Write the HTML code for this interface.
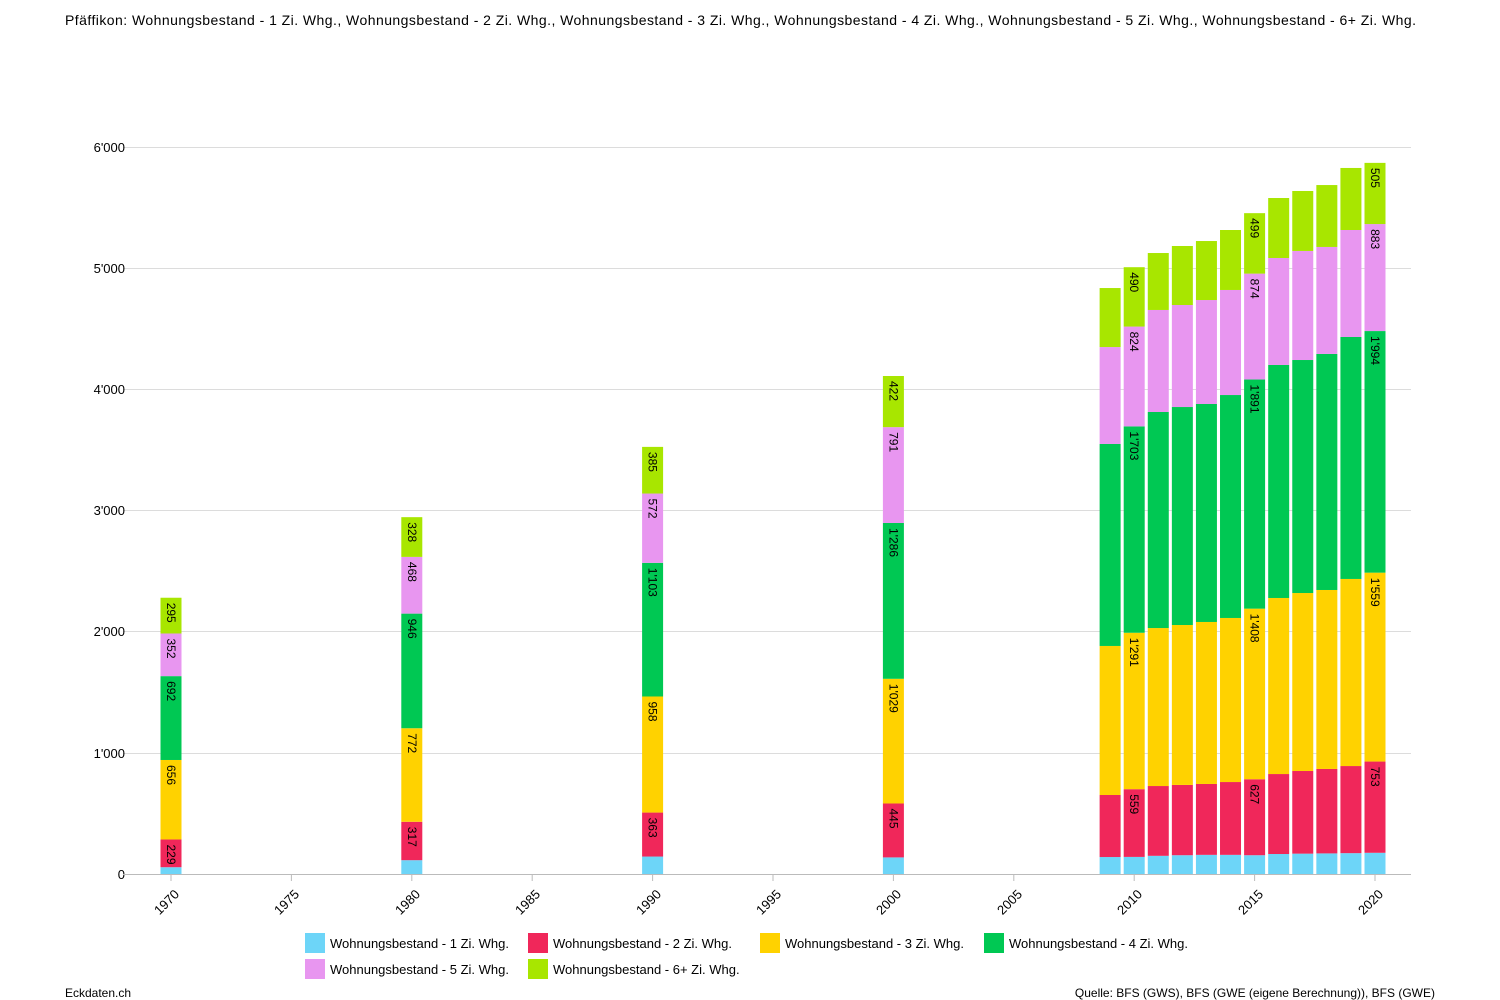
<!DOCTYPE html>
<html><head><meta charset="utf-8"><style>
body{margin:0;background:#fff;}
svg{display:block;font-family:"Liberation Sans",Arial,sans-serif;}
</style></head><body>
<svg id="s" width="1500" height="1000" viewBox="0 0 1500 1000">
<text x="65" y="25" font-size="14" fill="#000" textLength="1351" lengthAdjust="spacing">Pfäffikon: Wohnungsbestand - 1 Zi. Whg., Wohnungsbestand - 2 Zi. Whg., Wohnungsbestand - 3 Zi. Whg., Wohnungsbestand - 4 Zi. Whg., Wohnungsbestand - 5 Zi. Whg., Wohnungsbestand - 6+ Zi. Whg.</text>
<g stroke="#dcdcdc" stroke-width="1">
<line x1="123" x2="1411" y1="147.5" y2="147.5"/>
<line x1="123" x2="1411" y1="268.5" y2="268.5"/>
<line x1="123" x2="1411" y1="389.5" y2="389.5"/>
<line x1="123" x2="1411" y1="510.5" y2="510.5"/>
<line x1="123" x2="1411" y1="631.5" y2="631.5"/>
<line x1="123" x2="1411" y1="753.5" y2="753.5"/>
</g>
<g font-size="13" text-anchor="end" fill="#000">
<text x="125" y="152">6'000</text>
<text x="125" y="273">5'000</text>
<text x="125" y="394">4'000</text>
<text x="125" y="515">3'000</text>
<text x="125" y="636">2'000</text>
<text x="125" y="758">1'000</text>
<text x="125" y="879">0</text>
</g>
<g id="bars"></g>
<line x1="123" x2="1411" y1="874.5" y2="874.5" stroke="#bbb"/>
<g id="ticks" stroke="#bbb"></g>
<g font-size="13" text-anchor="end" fill="#000">
<text transform="translate(180,895) rotate(-45)">1970</text>
<text transform="translate(300,895) rotate(-45)">1975</text>
<text transform="translate(421,895) rotate(-45)">1980</text>
<text transform="translate(541,895) rotate(-45)">1985</text>
<text transform="translate(662,895) rotate(-45)">1990</text>
<text transform="translate(782,895) rotate(-45)">1995</text>
<text transform="translate(902,895) rotate(-45)">2000</text>
<text transform="translate(1023,895) rotate(-45)">2005</text>
<text transform="translate(1143,895) rotate(-45)">2010</text>
<text transform="translate(1264,895) rotate(-45)">2015</text>
<text transform="translate(1384,895) rotate(-45)">2020</text>
</g>
<g font-size="12" fill="#000">
<text transform="translate(167,844.5) rotate(90)">229</text>
<text transform="translate(167,765) rotate(90)">656</text>
<text transform="translate(167,681.1) rotate(90)">692</text>
<text transform="translate(167,638.5) rotate(90)">352</text>
<text transform="translate(167,602.7) rotate(90)">295</text>
<text transform="translate(407.8,826.8) rotate(90)">317</text>
<text transform="translate(407.8,733.2) rotate(90)">772</text>
<text transform="translate(407.8,618.6) rotate(90)">946</text>
<text transform="translate(407.8,561.9) rotate(90)">468</text>
<text transform="translate(407.8,522.2) rotate(90)">328</text>
<text transform="translate(648.6,817.6) rotate(90)">363</text>
<text transform="translate(648.6,701.5) rotate(90)">958</text>
<text transform="translate(648.6,567.8) rotate(90)">1'103</text>
<text transform="translate(648.6,498.5) rotate(90)">572</text>
<text transform="translate(648.6,451.9) rotate(90)">385</text>
<text transform="translate(889.4,808.5) rotate(90)">445</text>
<text transform="translate(889.4,683.8) rotate(90)">1'029</text>
<text transform="translate(889.4,528) rotate(90)">1'286</text>
<text transform="translate(889.4,432.1) rotate(90)">791</text>
<text transform="translate(889.4,381) rotate(90)">422</text>
<text transform="translate(1130.2,794.2) rotate(90)">559</text>
<text transform="translate(1130.2,637.8) rotate(90)">1'291</text>
<text transform="translate(1130.2,431.4) rotate(90)">1'703</text>
<text transform="translate(1130.2,331.6) rotate(90)">824</text>
<text transform="translate(1130.2,272.2) rotate(90)">490</text>
<text transform="translate(1250.6,784.2) rotate(90)">627</text>
<text transform="translate(1250.6,613.6) rotate(90)">1'408</text>
<text transform="translate(1250.6,384.5) rotate(90)">1'891</text>
<text transform="translate(1250.6,278.6) rotate(90)">874</text>
<text transform="translate(1250.6,218.1) rotate(90)">499</text>
<text transform="translate(1371,766.6) rotate(90)">753</text>
<text transform="translate(1371,577.7) rotate(90)">1'559</text>
<text transform="translate(1371,336) rotate(90)">1'994</text>
<text transform="translate(1371,229.1) rotate(90)">883</text>
<text transform="translate(1371,167.9) rotate(90)">505</text>
</g>
<g font-size="13" fill="#000">
<rect x="305" y="933" width="20" height="20" fill="#6dd5f8"/><text x="330" y="948">Wohnungsbestand - 1 Zi. Whg.</text>
<rect x="528" y="933" width="20" height="20" fill="#f0275a"/><text x="553" y="948">Wohnungsbestand - 2 Zi. Whg.</text>
<rect x="760" y="933" width="20" height="20" fill="#ffd200"/><text x="785" y="948">Wohnungsbestand - 3 Zi. Whg.</text>
<rect x="984" y="933" width="20" height="20" fill="#00c853"/><text x="1009" y="948">Wohnungsbestand - 4 Zi. Whg.</text>
<rect x="305" y="959" width="20" height="20" fill="#e896f0"/><text x="330" y="974">Wohnungsbestand - 5 Zi. Whg.</text>
<rect x="528" y="959" width="20" height="20" fill="#a8e600"/><text x="553" y="974">Wohnungsbestand - 6+ Zi. Whg.</text>
</g>
<text x="65" y="997" font-size="12">Eckdaten.ch</text>
<text x="1435" y="997" font-size="12" text-anchor="end">Quelle: BFS (GWS), BFS (GWE (eigene Berechnung)), BFS (GWE)</text>
</svg>
<script>
var cols=["#6dd5f8","#f0275a","#ffd200","#00c853","#e896f0","#a8e600"];
var data={1970:[56,285,941,1633,1985,2280],1980:[114,431,1203,2149,2617,2945],1990:[144,507,1465,2568,3140,3525],2000:[137,582,1611,2897,3688,4110],
2009:[140,652,1882,3549,4349,4836],2010:[141,700,1991,3694,4518,5008],2011:[150,726,2030,3813,4655,5125],2012:[155,735,2055,3854,4696,5183],
2013:[158,743,2080,3879,4737,5224],2014:[158,759,2113,3953,4820,5315],2015:[155,782,2190,4081,4955,5454],2016:[165,825,2278,4201,5084,5579],
2017:[168,850,2319,4242,5142,5637],2018:[170,867,2344,4292,5175,5686],2019:[172,891,2435,4432,5315,5827],2020:[175,928,2487,4481,5364,5869]};
var NS="http://www.w3.org/2000/svg",k=727/6000;
function X(y){return 171+(y-1970)*24.08;}function Y(v){return 874-v*k;}
var bars=document.getElementById("bars"),ticks=document.getElementById("ticks");
for(var yr in data){var c=data[yr],prev=0;for(var i=0;i<6;i++){var r=document.createElementNS(NS,"rect");
r.setAttribute("x",X(+yr)-10.5);r.setAttribute("width",21);r.setAttribute("y",Y(c[i]));r.setAttribute("height",Y(prev)-Y(c[i]));r.setAttribute("fill",cols[i]);bars.appendChild(r);prev=c[i];}}
for(var t=1970;t<=2020;t+=5){var l=document.createElementNS(NS,"line");l.setAttribute("x1",X(t));l.setAttribute("x2",X(t));l.setAttribute("y1",875);l.setAttribute("y2",881);ticks.appendChild(l);}
</script>
</body></html>
